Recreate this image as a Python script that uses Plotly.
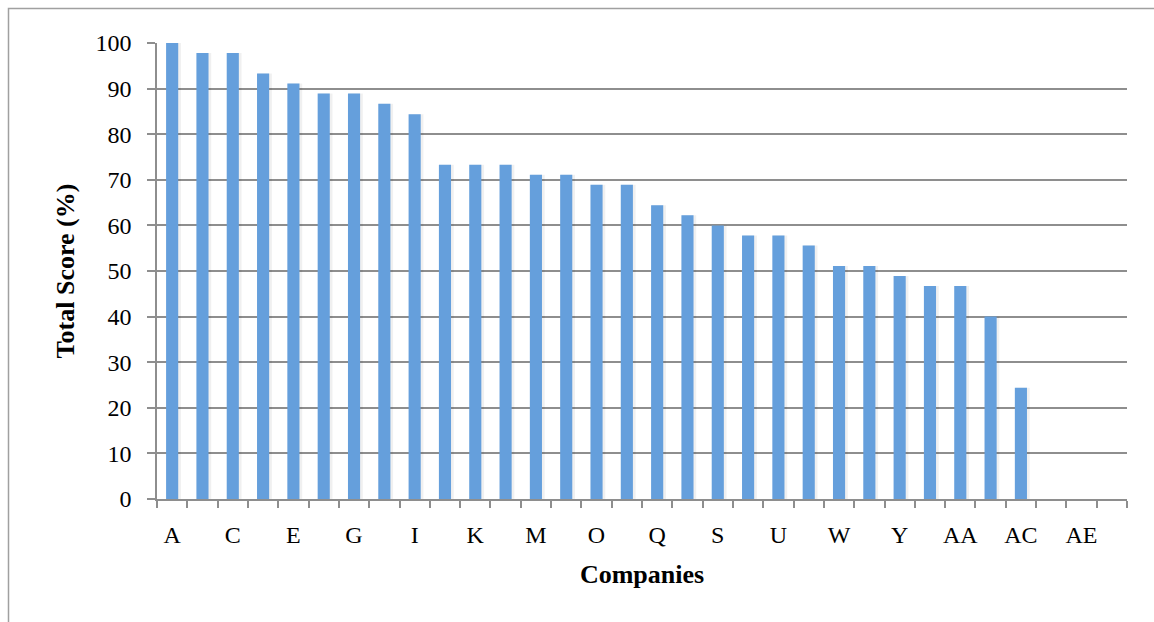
import plotly.graph_objects as go

# Company labels A..AF and their total scores (%); AD..AF have no score
companies = ["A", "B", "C", "D", "E", "F", "G", "H", "I", "J", "K", "L", "M",
             "N", "O", "P", "Q", "R", "S", "T", "U", "V", "W", "X", "Y", "Z",
             "AA", "AB", "AC", "AD", "AE", "AF"]
scores = [100, 97.8, 97.8, 93.3, 91.1, 88.9, 88.9, 86.7, 84.4, 73.3, 73.3,
          73.3, 71.1, 71.1, 68.9, 68.9, 64.4, 62.2, 60.0, 57.8, 57.8, 55.6,
          51.1, 51.1, 48.9, 46.7, 46.7, 40.0, 24.4, None, None, None]
y_ticks = [0, 10, 20, 30, 40, 50, 60, 70, 80, 90, 100]

W, H = 1154, 622
ML, MR, MT, MB = 157, 27, 43, 123
pw, ph = W - ML - MR, H - MT - MB

x = list(range(len(companies)))
label_idx = x[::2]

SERIF = "Liberation Serif"

fig = go.Figure()
# soft drop shadow to the right of each bar
fig.add_trace(go.Bar(
    x=x, y=scores, width=0.46, offset=-0.17,
    marker=dict(color="rgba(0,0,0,0.06)", line=dict(width=0)),
    hoverinfo="skip", showlegend=False,
))
fig.add_trace(go.Bar(
    x=x, y=scores, width=0.40, offset=-0.20,
    marker=dict(color="#659fdc", line=dict(width=0)),
    showlegend=False, name="Total Score",
))

fig.update_layout(
    width=W, height=H,
    margin=dict(l=ML, r=MR, t=MT, b=MB),
    paper_bgcolor="white", plot_bgcolor="white",
    barmode="overlay",
    font=dict(family=SERIF, size=24, color="black"),
    xaxis=dict(
        range=[-0.5, len(companies) - 0.5],
        tickmode="array",
        tickvals=label_idx,
        ticktext=[companies[i] for i in label_idx],
        ticks="",
        showgrid=False, zeroline=False,
        showline=True, linecolor="#8e8e8e", linewidth=1.5,
        tickfont=dict(family=SERIF, size=24),
        ticklabelstandoff=13,
        minor=dict(
            tickmode="array",
            tickvals=[i - 0.5 for i in range(len(companies) + 1)],
            ticks="outside", ticklen=7, tickcolor="#8e8e8e", tickwidth=1.5,
            showgrid=False,
        ),
        title=dict(text="<b>Companies</b>", font=dict(family=SERIF, size=26),
                   standoff=18),
    ),
    yaxis=dict(
        range=[0, 100],
        tickmode="array", tickvals=y_ticks,
        ticks="outside", ticklen=8, tickcolor="#8e8e8e", tickwidth=1.5,
        showgrid=True, gridcolor="#8e8e8e", gridwidth=1.5,
        zeroline=False,
        showline=True, linecolor="#8e8e8e", linewidth=1.5,
        tickfont=dict(family=SERIF, size=24),
        ticklabelstandoff=11,
        title=dict(text="<b>Total Score (%)</b>", font=dict(family=SERIF, size=26),
                   standoff=13),
    ),
    shapes=[dict(
        type="rect", xref="paper", yref="paper", layer="below",
        x0=(8.5 - ML) / pw, x1=(W + 10 - ML) / pw,
        y0=(H - MB - (H + 10)) / ph, y1=(H - MB - 8.5) / ph,
        line=dict(color="#a0a0a0", width=1.5), fillcolor="rgba(0,0,0,0)",
    )],
)

fig.write_html("out.html")
